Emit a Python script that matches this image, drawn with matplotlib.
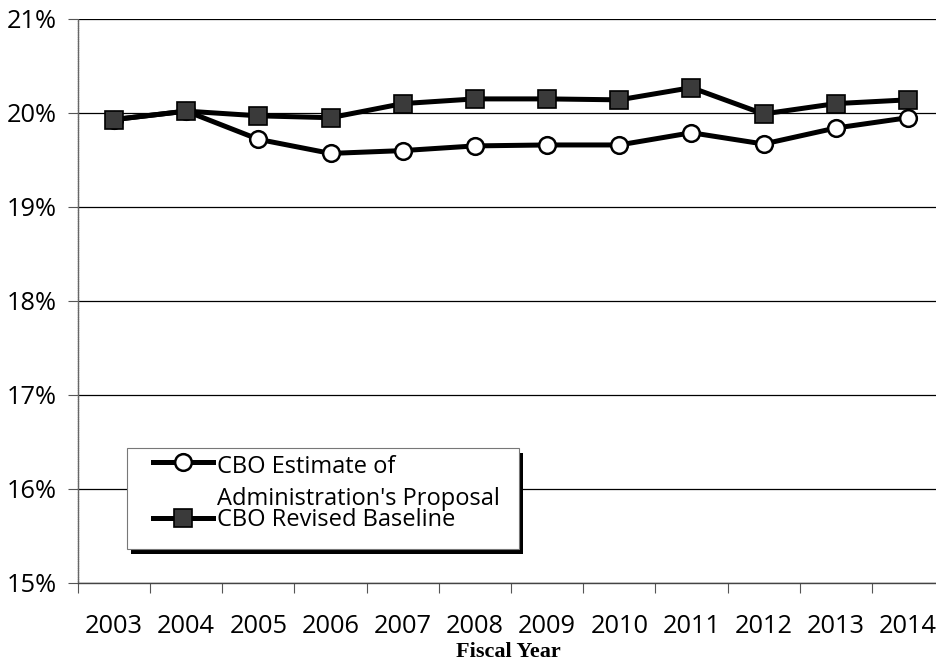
import matplotlib
matplotlib.use("Agg")
import matplotlib.pyplot as plt
from matplotlib.legend_handler import HandlerLine2D
from matplotlib.patches import Rectangle
import numpy as np

# Federal outlays/revenues as a share of GDP, fiscal years 2003-2014
years = ["2003", "2004", "2005", "2006", "2007", "2008",
         "2009", "2010", "2011", "2012", "2013", "2014"]
proposal = [19.93, 20.02, 19.72, 19.57, 19.60, 19.65,
            19.66, 19.66, 19.79, 19.67, 19.84, 19.95]
baseline = [19.93, 20.02, 19.97, 19.95, 20.10, 20.15,
            20.15, 20.14, 20.27, 19.99, 20.10, 20.14]
y_ticks = [15, 16, 17, 18, 19, 20, 21]
y_tick_labels = [f"{v}%" for v in y_ticks]

plt.rcParams["font.family"] = ["Open Sans", "DejaVu Sans"]


class ShiftedLineHandler(HandlerLine2D):
    """Legend line handle that can be nudged vertically (in points)."""

    def __init__(self, dy=0.0, **kw):
        super().__init__(**kw)
        self.dy = dy

    def create_artists(self, legend, orig_handle, xdescent, ydescent,
                       width, height, fontsize, trans):
        artists = super().create_artists(legend, orig_handle, xdescent, ydescent,
                                         width, height, fontsize, trans)
        for a in artists:
            a.set_ydata(np.asarray(a.get_ydata(), dtype=float) + self.dy)
        return artists


W, H = 936, 663
fig = plt.figure(figsize=(W / 100, H / 100), dpi=100)
fig.patch.set_facecolor("white")

left, right, top, bottom = 78, 944, 19, 583
ax = fig.add_axes([left / W, 1 - bottom / H, (right - left) / W, (bottom - top) / H])

x = np.arange(len(years))
l1, = ax.plot(x, proposal, color="black", lw=3.6, marker="o", markersize=12,
              markerfacecolor="white", markeredgecolor="black", markeredgewidth=1.8,
              label="CBO Estimate of\nAdministration's Proposal", zorder=3)
l2, = ax.plot(x, baseline, color="black", lw=3.6, marker="s", markersize=13,
              markerfacecolor="#3a3a3a", markeredgecolor="black", markeredgewidth=1.2,
              label="CBO Revised Baseline", zorder=4)

ax.set_xlim(-0.5, len(years) - 0.5)
ax.set_ylim(15, 21)

ax.set_yticks(y_ticks)
ax.set_yticklabels(y_tick_labels)
ax.set_xticks(x)
ax.set_xticklabels(years)
ax.set_xticks(np.arange(-0.5, len(years), 1.0), minor=True)

ax.tick_params(axis="x", which="major", length=0, pad=22, labelsize=18.3)
ax.tick_params(axis="x", which="minor", length=7, width=0.8, color="#555555",
               direction="out")
ax.tick_params(axis="y", which="major", length=7, width=0.8, color="#555555",
               pad=8, labelsize=18.3)

ax.yaxis.grid(True, color="black", lw=0.9)
ax.set_axisbelow(True)
for side in ("top", "right"):
    ax.spines[side].set_visible(False)
ax.spines["left"].set_color("#666666")
ax.spines["left"].set_linestyle((0, (1, 0.6)))
ax.spines["bottom"].set_color("#444444")
ax.spines["left"].set_linewidth(1.0)
ax.spines["bottom"].set_linewidth(1.0)

# Legend box: white panel with a hard black drop shadow
bx0, by0, bx1, by1 = 127, 448, 519, 549
shadow = Rectangle(((bx0 + 4) / W, 1 - (by1 + 5) / H), (bx1 - bx0) / W, (by1 - by0) / H,
                   transform=fig.transFigure, facecolor="black", edgecolor="none",
                   zorder=4.6, clip_on=False)
panel = Rectangle((bx0 / W, 1 - by1 / H), (bx1 - bx0) / W, (by1 - by0) / H,
                  transform=fig.transFigure, facecolor="white", edgecolor="#777777",
                  lw=0.8, zorder=4.7, clip_on=False)
ax.add_patch(shadow)
ax.add_patch(panel)

fs = 17
fs_px = fs * 100 / 72
leg = ax.legend(loc="upper left", bbox_to_anchor=(135 / W, 1 - 455 / H),
                bbox_transform=fig.transFigure, borderaxespad=0, borderpad=0,
                fontsize=fs, frameon=False,
                handlelength=78 / fs_px, handletextpad=0.15, labelspacing=-0.12,
                handler_map={l1: ShiftedLineHandler(dy=15.5, xpad=18 / fs_px),
                             l2: ShiftedLineHandler(dy=0.0, xpad=18 / fs_px)})
leg.set_zorder(5)
leg.get_texts()[0].set_linespacing(1.45)

fig.text(508 / W, 1 - 652 / H, "Fiscal Year", ha="center", va="center",
         fontsize=16, fontweight="bold", family=["Liberation Serif", "DejaVu Serif"])

fig.savefig("out.png", dpi=100)
